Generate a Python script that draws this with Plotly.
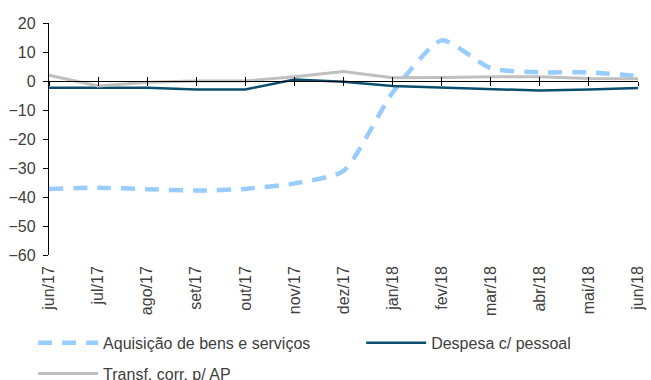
import plotly.graph_objects as go

# Monthly categories
months = ["jun/17", "jul/17", "ago/17", "set/17", "out/17", "nov/17", "dez/17",
          "jan/18", "fev/18", "mar/18", "abr/18", "mai/18", "jun/18"]

# Year-on-year change (%) per expenditure group
aquisicao = [-37.2, -36.8, -37.3, -37.8, -37.2, -35.3, -31.0,
             -4.0, 14.0, 4.4, 3.0, 3.0, 1.7]
despesa_pessoal = [-2.3, -2.3, -2.3, -2.9, -2.9, 0.5, -0.3,
                   -1.7, -2.2, -2.7, -3.3, -2.9, -2.4]
transf_ap = [2.0, -1.7, -0.4, 0.0, 0.0, 1.5, 3.3,
             1.1, 1.2, 1.5, 1.5, 0.9, 0.8]

FONT = "Liberation Sans, Arial, sans-serif"
TEXT = "#404040"

fig = go.Figure()
fig.add_trace(go.Scatter(
    x=months, y=aquisicao, name="Aquisição de bens e serviços", mode="lines",
    line=dict(color="#99CCFF", width=4.5, dash="14px,10px", shape="spline", smoothing=0.6),
    legend="legend", legendgroup="a",
))
fig.add_trace(go.Scatter(
    x=months, y=despesa_pessoal, name="Despesa c/ pessoal", mode="lines",
    line=dict(color="#0C4E6E", width=2.5),
    legend="legend2", legendgroup="b",
))
fig.add_trace(go.Scatter(
    x=months, y=transf_ap, name="Transf. corr. p/ AP", mode="lines",
    line=dict(color="#BFBFBF", width=3),
    legend="legend", legendgroup="c",
))

idx = list(range(len(months)))
zero_frac = (0 - (-60)) / (20 - (-60))

zero_axis = dict(
    overlaying="x", anchor="free", position=zero_frac, range=[0, len(months) - 1],
    tickmode="array", tickvals=idx, showticklabels=False, showgrid=False,
    zeroline=False, tickcolor="black", ticklen=4, tickwidth=1.2,
)

legend_style = dict(
    orientation="v", xanchor="left", yanchor="top", y=-0.305,
    font=dict(size=16, color=TEXT), itemwidth=60, tracegroupgap=7,
    bgcolor="rgba(0,0,0,0)",
)

fig.update_layout(
    width=651, height=380,
    margin=dict(l=49, r=13, t=23, b=125, autoexpand=False),
    paper_bgcolor="white", plot_bgcolor="white",
    font=dict(family=FONT, size=16, color=TEXT),
    xaxis=dict(
        type="category", range=[0, len(months) - 1], showline=False,
        showgrid=False, zeroline=False, ticks="", tickangle=-90, automargin=False,
        ticklabelstandoff=7, tickfont=dict(size=16, color=TEXT),
    ),
    xaxis2=dict(zero_axis, showline=True, linecolor="black", linewidth=1.3, ticks="outside"),
    xaxis3=dict(zero_axis, showline=False, ticks="inside"),
    yaxis=dict(
        range=[-60, 20], dtick=10, showline=True, linecolor="black", linewidth=1.3,
        ticks="outside", ticklen=5, tickcolor="black", showgrid=False, zeroline=False,
        automargin=False, tickfont=dict(size=16, color=TEXT), ticklabelstandoff=4,
    ),
    legend=dict(legend_style, x=-0.027),
    legend2=dict(legend_style, x=0.530),
    showlegend=True,
)

# invisible traces so the overlay axes are rendered
fig.add_trace(go.Scatter(x=idx, y=[None] * len(idx), xaxis="x2", showlegend=False, hoverinfo="skip"))
fig.add_trace(go.Scatter(x=idx, y=[None] * len(idx), xaxis="x3", showlegend=False, hoverinfo="skip"))

fig.write_html("out.html")
